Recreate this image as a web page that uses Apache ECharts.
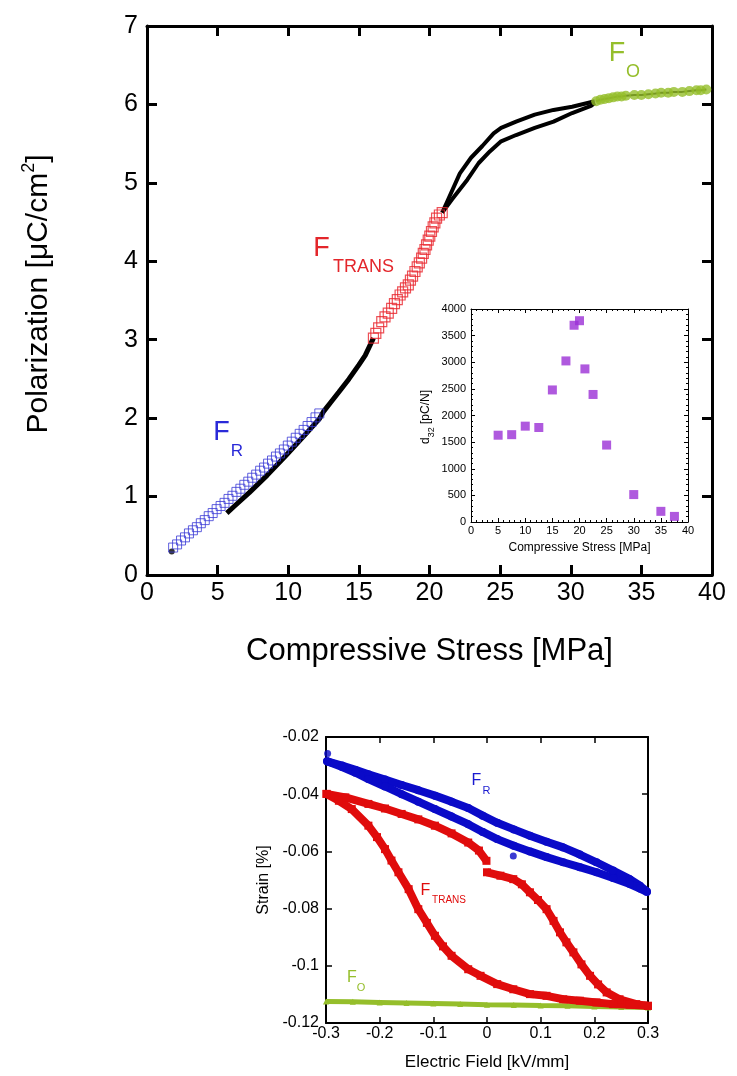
<!DOCTYPE html>
<html>
<head>
<meta charset="utf-8">
<script src="https://cdn.jsdelivr.net/npm/echarts@6/dist/echarts.min.js"></script>
<style>
html,body{margin:0;padding:0;background:#fff;}
#c{width:737px;height:1076px;}
</style>
</head>
<body>
<div id="c"></div>
<script>
// ---------- Main chart: Polarization vs compressive stress ----------
const mainTicksX = [0,5,10,15,20,25,30,35,40];
const mainTicksY = [0,1,2,3,4,5,6,7];
const mainStartX = [1.75];
const mainStartY = [0.30];
const mainBlueX = [1.85,2.13,2.41,2.69,2.97,3.25,3.53,3.81,4.09,4.37,4.65,4.93,5.21,5.49,5.77,6.05,6.33,6.61,6.89,7.17,7.45,7.73,8.01,8.29,8.57,8.85,9.13,9.41,9.69,9.97,10.25,10.53,10.81,11.09,11.37,11.65,11.93,12.2];
const mainBlueY = [0.35,0.39,0.44,0.48,0.53,0.57,0.61,0.66,0.70,0.75,0.79,0.84,0.88,0.92,0.97,1.01,1.06,1.10,1.15,1.19,1.24,1.28,1.33,1.37,1.42,1.46,1.51,1.55,1.60,1.65,1.70,1.75,1.80,1.85,1.90,1.95,2.01,2.06];
const mainBlackX = [5.65,6.2,7.24,8.5,9.82,11.2,12.2,12.52,13.0,13.57,14.3,15.0,15.45,16.03];
const mainBlackY = [0.79,0.88,1.05,1.27,1.52,1.79,1.99,2.09,2.20,2.33,2.50,2.68,2.80,3.02];
const mainRedX = [16.03,16.2,16.4,16.62,16.85,17.08,17.32,17.52,17.72,17.92,18.1,18.3,18.5,18.65,18.8,18.97,19.13,19.28,19.44,19.56,19.68,19.79,19.91,20.02,20.14,20.26,20.38,20.5,20.7,20.9];
const mainRedY = [3.02,3.08,3.15,3.23,3.29,3.34,3.40,3.46,3.51,3.57,3.61,3.66,3.70,3.76,3.81,3.87,3.93,3.98,4.04,4.10,4.15,4.21,4.27,4.32,4.38,4.44,4.49,4.55,4.59,4.62];
const mainUpperX = [20.9,21.2,22.15,22.94,23.74,24.54,25.07,26.13,27.45,28.78,30.1,31.7];
const mainUpperY = [4.62,4.74,5.12,5.32,5.47,5.63,5.70,5.78,5.87,5.93,5.97,6.04];
const mainLowerX = [20.9,21.6,22.68,23.47,24.27,25.07,26.13,27.45,28.78,30.1,31.43,31.7];
const mainLowerY = [4.62,4.79,5.04,5.25,5.40,5.53,5.61,5.70,5.78,5.89,5.98,6.02];
const mainGreenX = [31.8,32.1,32.4,32.7,33.0,33.3,33.6,33.9,34.5,35.0,35.5,36.0,36.4,36.9,37.3,37.9,38.4,38.9,39.2,39.6];
const mainGreenY = [6.04,6.06,6.07,6.08,6.09,6.10,6.10,6.11,6.12,6.12,6.13,6.14,6.15,6.15,6.16,6.16,6.17,6.18,6.18,6.19];

// ---------- Inset: d32 vs compressive stress ----------
const insetX = [5,7.5,10,12.5,15,17.5,19,20,21,22.5,25,30,35,37.5];
const insetY = [1630,1640,1800,1775,2480,3025,3695,3780,2875,2395,1445,515,200,105];

// ---------- Bottom: strain vs electric field ----------
const blueUpE = [-0.298,-0.27,-0.245,-0.221,-0.19,-0.159,-0.128,-0.097,-0.066,-0.035,-0.008,0.019,0.05,0.08,0.111,0.142,0.173,0.204,0.235,0.266,0.285,0.298];
const blueUpS = [-0.0285,-0.0300,-0.0315,-0.0330,-0.0349,-0.0368,-0.0386,-0.0405,-0.0426,-0.0448,-0.0475,-0.0500,-0.0523,-0.0545,-0.0566,-0.0586,-0.0611,-0.0638,-0.0667,-0.0697,-0.0720,-0.0740];
const blueLoE = [-0.298,-0.27,-0.245,-0.221,-0.19,-0.159,-0.128,-0.097,-0.066,-0.035,-0.008,0.019,0.05,0.08,0.111,0.142,0.173,0.204,0.235,0.266,0.285,0.298];
const blueLoS = [-0.0285,-0.0305,-0.0325,-0.0347,-0.0373,-0.0400,-0.0426,-0.0452,-0.0478,-0.0505,-0.0532,-0.0557,-0.0580,-0.0600,-0.0620,-0.0638,-0.0655,-0.0673,-0.0693,-0.0714,-0.0730,-0.0742];
const blueStrayE = [-0.297,0.049];
const blueStrayS = [-0.0258,-0.0616];
const redUp1E = [-0.299,-0.264,-0.221,-0.19,-0.159,-0.128,-0.097,-0.066,-0.035,-0.015,-0.001];
const redUp1S = [-0.0399,-0.0411,-0.0434,-0.0450,-0.0469,-0.0488,-0.0510,-0.0537,-0.0569,-0.0597,-0.0633];
const redUp2E = [0.0,0.025,0.049,0.065,0.080,0.095,0.111,0.124,0.136,0.148,0.161,0.176,0.192,0.207,0.223,0.247,0.278,0.300];
const redUp2S = [-0.0673,-0.0685,-0.0697,-0.0715,-0.0743,-0.0770,-0.0802,-0.0843,-0.0883,-0.0918,-0.0953,-0.0995,-0.1035,-0.1065,-0.1093,-0.1117,-0.1134,-0.1140];
const redLoE = [-0.299,-0.276,-0.252,-0.221,-0.205,-0.190,-0.178,-0.165,-0.146,-0.128,-0.112,-0.097,-0.082,-0.066,-0.035,-0.012,0.019,0.049,0.080,0.111,0.142,0.173,0.204,0.235,0.266,0.300];
const redLoS = [-0.0399,-0.0423,-0.0452,-0.0510,-0.0550,-0.0592,-0.0632,-0.0673,-0.0732,-0.0802,-0.0850,-0.0895,-0.0932,-0.0965,-0.1012,-0.1035,-0.1064,-0.1082,-0.1099,-0.1105,-0.1117,-0.1122,-0.1128,-0.1134,-0.1136,-0.1140];
const greenE = [-0.3,-0.25,-0.2,-0.15,-0.1,-0.05,0,0.05,0.1,0.15,0.2,0.25,0.3];
const greenS = [-0.1125,-0.1126,-0.1128,-0.1130,-0.1132,-0.1134,-0.1136,-0.1137,-0.1139,-0.1140,-0.1142,-0.1144,-0.1146];

const FONT = "'Liberation Sans', Arial, Helvetica, sans-serif";
const zip = (a, b) => a.map((v, i) => [v, b[i]]);
const plain = v => String(Math.round(v * 1000) / 1000);

function axis(o) {
  const base = {
    type: 'value', min: o.min, max: o.max, interval: o.interval,
    gridIndex: o.grid, position: o.position,
    axisLine: {show: true, onZero: false, lineStyle: {color: '#000', width: o.lw}},
    axisTick: {show: true, inside: true, length: o.tl, lineStyle: {color: '#000', width: o.tw}},
    minorTick: o.minor ? {show: true, splitNumber: 5, length: 2, lineStyle: {color: '#000', width: 1}} : {show: false},
    axisLabel: o.label ? {show: true, fontSize: o.fs, color: '#000', margin: o.margin, fontFamily: FONT, formatter: plain} : {show: false},
    splitLine: {show: false}
  };
  if (o.name) {
    base.name = o.name; base.nameLocation = 'middle'; base.nameGap = o.nameGap;
    base.nameTextStyle = {fontSize: o.nfs, color: '#000', fontFamily: FONT};
  }
  return base;
}

const xAxes = [
  axis({grid:0, position:'bottom', min:0, max:40, interval:5, lw:3, tl:10, tw:3, label:true, fs:25, margin:6, name:'Compressive Stress [MPa]', nameGap:61, nfs:31}),
  axis({grid:0, position:'top', min:0, max:40, interval:5, lw:3, tl:10, tw:3, label:false}),
  axis({grid:1, position:'bottom', min:0, max:40, interval:5, lw:1, tl:4, tw:1, minor:true, label:true, fs:11, margin:3, name:'Compressive Stress [MPa]', nameGap:20, nfs:12}),
  axis({grid:1, position:'top', min:0, max:40, interval:5, lw:1, tl:4, tw:1, minor:true, label:false}),
  axis({grid:2, position:'bottom', min:-0.3, max:0.3, interval:0.1, lw:2, tl:6, tw:1.5, label:true, fs:16, margin:3, name:'Electric Field [kV/mm]', nameGap:31, nfs:17}),
  axis({grid:2, position:'top', min:-0.3, max:0.3, interval:0.1, lw:2, tl:6, tw:1.5, label:false})
];
const yAxes = [
  axis({grid:0, position:'left', min:0, max:7, interval:1, lw:3, tl:10, tw:3, label:true, fs:25, margin:9}),
  axis({grid:0, position:'right', min:0, max:7, interval:1, lw:3, tl:10, tw:3, label:false}),
  axis({grid:1, position:'left', min:0, max:4000, interval:500, lw:1, tl:4, tw:1, minor:true, label:true, fs:11, margin:5}),
  axis({grid:1, position:'right', min:0, max:4000, interval:500, lw:1, tl:4, tw:1, minor:true, label:false}),
  axis({grid:2, position:'left', min:-0.12, max:-0.02, interval:0.02, lw:2, tl:6, tw:1.5, label:true, fs:16, margin:7, name:'Strain [%]', nameGap:54, nfs:16}),
  axis({grid:2, position:'right', min:-0.12, max:-0.02, interval:0.02, lw:2, tl:6, tw:1.5, label:false})
];

const BLUE_M = '#3a3ad6', RED_M = '#e8262d', GREEN = '#95be2b', PURPLE = '#9b30d6';
const BLUE_B = '#0a0ac8', RED_B = '#e00c0c';

const series = [
  // main chart
  {type:'line', xAxisIndex:0, yAxisIndex:0, data: zip(mainBlackX, mainBlackY), showSymbol:false, lineStyle:{color:'#000', width:5}, z:2},
  {type:'scatter', xAxisIndex:0, yAxisIndex:0, data: zip(mainStartX, mainStartY), symbol:'circle', symbolSize:6, itemStyle:{color:'#000'}, z:2},
  {type:'scatter', xAxisIndex:0, yAxisIndex:0, data: zip(mainBlueX, mainBlueY), symbol:'rect', symbolSize:9, itemStyle:{color:'rgba(255,255,255,0)', borderColor:BLUE_M, borderWidth:1}, z:3},
  {type:'line', xAxisIndex:0, yAxisIndex:0, data: zip(mainUpperX, mainUpperY), showSymbol:false, lineStyle:{color:'#000', width:4}, z:2},
  {type:'line', xAxisIndex:0, yAxisIndex:0, data: zip(mainLowerX, mainLowerY), showSymbol:false, lineStyle:{color:'#000', width:4}, z:2},
  {type:'scatter', xAxisIndex:0, yAxisIndex:0, data: zip(mainRedX, mainRedY), symbol:'rect', symbolSize:10, itemStyle:{color:'rgba(255,255,255,0)', borderColor:RED_M, borderWidth:1.2}, z:3},
  {type:'line', xAxisIndex:0, yAxisIndex:0, data: zip(mainGreenX, mainGreenY), showSymbol:false, lineStyle:{color:'#000', width:2}, z:2},
  {type:'scatter', xAxisIndex:0, yAxisIndex:0, data: zip(mainGreenX, mainGreenY), symbol:'circle', symbolSize:10, itemStyle:{color:GREEN}, z:3},
  // inset
  {type:'scatter', xAxisIndex:2, yAxisIndex:2, data: zip(insetX, insetY), symbol:'rect', symbolSize:9, itemStyle:{color:PURPLE}, z:4},
  // bottom chart
  {type:'line', xAxisIndex:4, yAxisIndex:4, data: zip(greenE, greenS), symbol:'triangle', symbolSize:6, showAllSymbol:true, itemStyle:{color:GREEN}, lineStyle:{color:GREEN, width:5}, z:2},
  {type:'line', xAxisIndex:4, yAxisIndex:4, data: zip(redUp1E, redUp1S), symbol:'rect', symbolSize:8, showAllSymbol:true, itemStyle:{color:RED_B}, lineStyle:{color:RED_B, width:8}, z:3},
  {type:'line', xAxisIndex:4, yAxisIndex:4, data: zip(redUp2E, redUp2S), symbol:'rect', symbolSize:8, showAllSymbol:true, itemStyle:{color:RED_B}, lineStyle:{color:RED_B, width:8}, z:3},
  {type:'line', xAxisIndex:4, yAxisIndex:4, data: zip(redLoE, redLoS), symbol:'rect', symbolSize:8, showAllSymbol:true, itemStyle:{color:RED_B}, lineStyle:{color:RED_B, width:8}, z:3},
  {type:'line', xAxisIndex:4, yAxisIndex:4, data: zip(blueUpE, blueUpS), symbol:'circle', symbolSize:8, showAllSymbol:true, itemStyle:{color:BLUE_B}, lineStyle:{color:BLUE_B, width:8}, z:4},
  {type:'line', xAxisIndex:4, yAxisIndex:4, data: zip(blueLoE, blueLoS), symbol:'circle', symbolSize:8, showAllSymbol:true, itemStyle:{color:BLUE_B}, lineStyle:{color:BLUE_B, width:8}, z:4},
  {type:'scatter', xAxisIndex:4, yAxisIndex:4, data: zip(blueStrayE, blueStrayS), symbol:'circle', symbolSize:7, itemStyle:{color:BLUE_B}, z:4}
];

function txt(x, y, text, size, color) {
  return {type:'text', x:x, y:y, z:100, silent:true,
    style:{text:text, fontSize:size, fontFamily:FONT, fill:color, align:'center', verticalAlign:'middle'}};
}

const graphic = [
  {type:'text', x:37, y:294, rotation:Math.PI/2, z:100, silent:true,
   style:{text:'{a|Polarization [μC/cm}{s|2}{a|]}', align:'center', verticalAlign:'middle',
     rich:{a:{fontSize:30, fontFamily:FONT, fill:'#000', color:'#000', lineHeight:34, verticalAlign:'bottom'},
           s:{fontSize:18, fontFamily:FONT, fill:'#000', color:'#000', lineHeight:18, verticalAlign:'top'}}}},
  {type:'text', x:428, y:417, rotation:Math.PI/2, z:100, silent:true,
   style:{text:'{a|d}{b|32}{a| [pC/N]}', align:'center', verticalAlign:'middle',
     rich:{a:{fontSize:12, fontFamily:FONT, fill:'#000', color:'#000', lineHeight:16, verticalAlign:'top'},
           b:{fontSize:9, fontFamily:FONT, fill:'#000', color:'#000', lineHeight:9, verticalAlign:'bottom'}}}},
  // main labels
  txt(221.5, 432.5, 'F', 27, '#2a2ad8'), txt(237, 451, 'R', 17, '#2a2ad8'),
  txt(321.5, 248.5, 'F', 27, '#e3262b'), txt(363.5, 267, 'TRANS', 18, '#e3262b'),
  txt(617, 53.5, 'F', 27, GREEN), txt(633, 72, 'O', 18, GREEN),
  // bottom labels
  txt(476.5, 781, 'F', 16, '#1a1ad0'), txt(486.5, 791, 'R', 11, '#1a1ad0'),
  txt(425.5, 891, 'F', 16, RED_B), txt(449, 900.5, 'TRANS', 10, RED_B),
  txt(352, 977.5, 'F', 16, GREEN), txt(361, 988, 'O', 11, GREEN)
];

const chart = echarts.init(document.getElementById('c'), null, {renderer:'canvas'});
chart.setOption({
  animation: false,
  backgroundColor: '#fff',
  textStyle: {fontFamily: FONT},
  grid: [
    {left:147, top:26, width:565, height:549},
    {left:471, top:309, width:217, height:213},
    {left:326, top:737, width:322, height:286}
  ],
  xAxis: xAxes,
  yAxis: yAxes,
  series: series,
  graphic: graphic
});
</script>
</body>
</html>
